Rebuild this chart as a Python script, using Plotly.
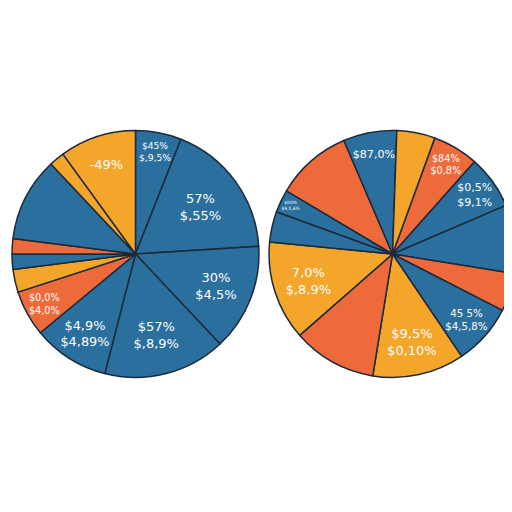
import plotly.graph_objects as go

left_labels = ["A1","A2","A3","A4","A5","A6","A7","A8","A9","A10","A11","A12"]
left_values = [6, 18, 14, 16, 10, 6, 3, 2, 2, 11, 2, 10]
left_text = ["$45%<br>$,9,5%","57%<br>$,55%","30%<br>$4,5%","$57%<br>$,8,9%","$4,9%<br>$4,89%",
             "$0,0%<br>$4,0%","","","","","","-49%"]
left_colors = ["#2a6f9e","#2a6f9e","#2a6f9e","#2a6f9e","#2a6f9e","#ef6a3a","#f4a62a","#2a6f9e","#ef6a3a","#2a6f9e","#f4a62a","#f4a62a"]

right_labels = ["B1","B2","B3","B4","B5","B6","B7","B8","B9","B10","B11","B12","B13"]
right_values = [6, 7, 9, 5, 8, 12, 11, 13, 4, 3, 10, 7, 5]
right_text = ["$84%<br>$0,8%","$0,5%<br>$9,1%","","","45 5%<br>$4,5,8%","$9,5%<br>$0,10%",
              "","7,0%<br>$,8,9%","","$00%<br>$9,5,6%","","$87,0%",""]
right_colors = ["#ef6a3a","#2a6f9e","#2a6f9e","#ef6a3a","#2a6f9e","#f4a62a","#ef6a3a","#f4a62a",
                "#2a6f9e","#2a6f9e","#ef6a3a","#2a6f9e","#f4a62a"]

fig = go.Figure()
fig.add_trace(go.Pie(labels=left_labels, values=left_values, text=left_text, textinfo="text",
                     textposition="inside", sort=False, direction="clockwise", rotation=0,
                     marker=dict(colors=left_colors, line=dict(color="#1b2a3a", width=1.5)),
                     textfont=dict(color="white", size=13, family="DejaVu Sans"),
                     insidetextorientation="horizontal",
                     domain=dict(x=[0.0, 0.49], y=[0.0, 1.0])))
fig.add_trace(go.Pie(labels=right_labels, values=right_values, text=right_text, textinfo="text",
                     textposition="inside", sort=False, direction="clockwise", rotation=20,
                     marker=dict(colors=right_colors, line=dict(color="#1b2a3a", width=1.5)),
                     textfont=dict(color="white", size=13, family="DejaVu Sans"),
                     insidetextorientation="horizontal",
                     domain=dict(x=[0.51, 1.0], y=[0.0, 1.0])))
fig.update_layout(width=512, height=512, showlegend=False, paper_bgcolor="white",
                  margin=dict(l=4, r=4, t=110, b=130))
fig.write_html("out.html")
